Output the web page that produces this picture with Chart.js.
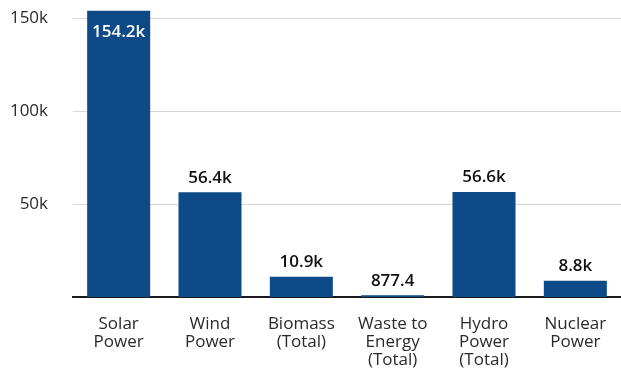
<!DOCTYPE html>
<html>
<head>
<meta charset="utf-8">
<script src="https://cdn.jsdelivr.net/npm/chart.js@4/dist/chart.umd.min.js"></script>
<style>
  html, body { margin: 0; padding: 0; background: #ffffff; }
  #chart { display: block; }
</style>
</head>
<body>
<canvas id="chart" width="621" height="370"></canvas>
<script>
// Electricity generation by source
const categories = [
  ['Solar', 'Power'],
  ['Wind', 'Power'],
  ['Biomass', '(Total)'],
  ['Waste to', 'Energy', '(Total)'],
  ['Hydro', 'Power', '(Total)'],
  ['Nuclear', 'Power']
];
const generation = [154200, 56400, 10900, 877.4, 56600, 8800];
const yTickValues = [50000, 100000, 150000];

const barColor = '#0d4a87';
const fontFamily = '"Open Sans", Lato, sans-serif';

function formatValue(v) {
  if (Math.abs(v) >= 1000) return (v / 1000).toFixed(1) + 'k';
  return v.toFixed(1);
}

// Value labels: above each bar, or inside the bar when there is no room above
const valueLabels = {
  id: 'valueLabels',
  afterDatasetsDraw(chart) {
    const ctx = chart.ctx;
    const meta = chart.getDatasetMeta(0);
    const area = chart.chartArea;
    ctx.save();
    ctx.font = '600 17px ' + fontFamily;
    ctx.textAlign = 'center';
    meta.data.forEach((bar, i) => {
      const v = chart.data.datasets[0].data[i];
      const text = formatValue(v);
      if (bar.y - 26 < area.top) {
        ctx.fillStyle = '#ffffff';
        ctx.textBaseline = 'top';
        ctx.fillText(text, bar.x, bar.y + 13);
      } else {
        ctx.fillStyle = '#111111';
        ctx.textBaseline = 'bottom';
        ctx.fillText(text, bar.x, bar.y - 6);
      }
    });
    ctx.restore();
  }
};

new Chart(document.getElementById('chart'), {
  type: 'bar',
  data: {
    labels: categories,
    datasets: [{
      data: generation,
      backgroundColor: barColor,
      borderWidth: 0,
      barPercentage: 0.69,
      categoryPercentage: 1.0
    }]
  },
  options: {
    responsive: false,
    devicePixelRatio: 1,
    animation: false,
    layout: { padding: 0 },
    plugins: {
      legend: { display: false },
      tooltip: { enabled: false }
    },
    scales: {
      x: {
        grid: { display: false, drawTicks: false },
        border: { display: true, color: '#1a1a1a', width: 2 },
        ticks: {
          color: '#2a2a2a',
          font: { family: fontFamily, size: 17, lineHeight: 1.06 },
          padding: 18,
          maxRotation: 0,
          autoSkip: false
        },
        afterFit(scale) {
          scale.height = 73;
          scale.paddingLeft = 0;
          scale.paddingRight = 0;
        }
      },
      y: {
        min: 0,
        max: 160000,
        afterBuildTicks(scale) {
          scale.ticks = yTickValues.map(v => ({ value: v }));
        },
        grid: { color: '#d6d6d6', lineWidth: 1, drawTicks: false },
        border: { display: false },
        ticks: {
          color: '#2a2a2a',
          font: { family: fontFamily, size: 17 },
          padding: 25,
          callback: (v) => (v / 1000) + 'k'
        },
        afterFit(scale) {
          scale.width = 73;
          scale.paddingTop = 0;
          scale.paddingBottom = 0;
        }
      }
    }
  },
  plugins: [valueLabels]
});
</script>
</body>
</html>
